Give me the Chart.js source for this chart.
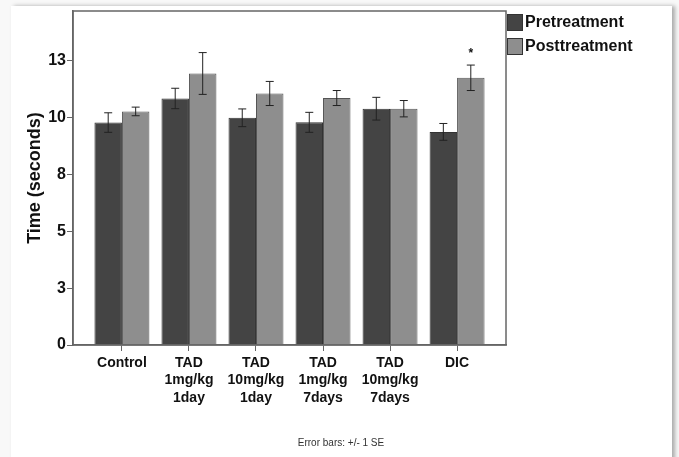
<!DOCTYPE html>
<html>
<head>
<meta charset="utf-8">
<script src="https://cdn.jsdelivr.net/npm/chart.js@4"></script>
<style>
  html, body { margin: 0; padding: 0; background: #f8f8f8; }
  #frame {
    position: absolute; left: 11px; top: 6px; width: 661px; height: 460px;
    background: #fff; box-shadow: 3px 0 4px #aaa;
  }
  #chart { position: absolute; left: 0; top: 0; }
</style>
</head>
<body>
<div id="frame"></div>
<canvas id="chart" width="679" height="457"></canvas>
<script>
const categories = [
  ['Control'],
  ['TAD', '1mg/kg', '1day'],
  ['TAD', '10mg/kg', '1day'],
  ['TAD', '1mg/kg', '7days'],
  ['TAD', '10mg/kg', '7days'],
  ['DIC']
];
const preValues = [9.79, 10.85, 10.0, 9.8, 10.4, 9.38];
const postValues = [10.28, 11.95, 11.07, 10.87, 10.4, 11.76];
const preSE = [0.43, 0.45, 0.39, 0.44, 0.5, 0.37];
const postSE = [0.19, 0.92, 0.53, 0.33, 0.36, 0.56];
const postMarks = ['', '', '', '', '', '*'];
const yTickValues = [0, 2.5, 5, 7.5, 10, 12.5];
const yTickLabels = ['0', '3', '5', '8', '10', '13'];

const preColor = '#444444';
const postColor = '#8e8e8e';
const axisColor = '#666666';
const textColor = '#111111';

// error bars, asterisk, plot frame, legend and footnote
const extras = {
  id: 'extras',
  afterDatasetsDraw(chart) {
    const ctx = chart.ctx;
    const y = chart.scales.y;
    const area = chart.chartArea;
    ctx.save();
    ctx.strokeStyle = axisColor;
    ctx.lineWidth = 1.5;
    ctx.strokeRect(area.left, area.top, area.right - area.left, area.bottom - area.top);

    const sets = [[preValues, preSE, null], [postValues, postSE, postMarks]];
    sets.forEach(([vals, se, marks], d) => {
      const meta = chart.getDatasetMeta(d);
      meta.data.forEach((bar, i) => {
        const hi = y.getPixelForValue(vals[i] + se[i]);
        const lo = y.getPixelForValue(vals[i] - se[i]);
        ctx.strokeStyle = '#222';
        ctx.lineWidth = 1;
        ctx.beginPath();
        ctx.moveTo(bar.x, hi); ctx.lineTo(bar.x, lo);
        ctx.moveTo(bar.x - 4, hi); ctx.lineTo(bar.x + 4, hi);
        ctx.moveTo(bar.x - 4, lo); ctx.lineTo(bar.x + 4, lo);
        ctx.stroke();
        if (marks && marks[i]) {
          ctx.fillStyle = textColor;
          ctx.font = 'bold 12px "Liberation Sans", Arial';
          ctx.textAlign = 'center';
          ctx.textBaseline = 'middle';
          ctx.fillText(marks[i], bar.x, hi - 11);
        }
      });
    });

    // legend
    const items = [['Pretreatment', preColor], ['Posttreatment', postColor]];
    items.forEach(([label, color], k) => {
      const top = 14 + k * 24;
      ctx.fillStyle = color;
      ctx.fillRect(507, top, 16, 17);
      ctx.strokeStyle = '#333';
      ctx.lineWidth = 1;
      ctx.strokeRect(507.5, top + 0.5, 15, 16);
      ctx.fillStyle = textColor;
      ctx.font = 'bold 16px "Liberation Sans", Arial';
      ctx.textAlign = 'left';
      ctx.textBaseline = 'middle';
      ctx.fillText(label, 525, top + 9);
    });

    ctx.fillStyle = '#333';
    ctx.font = '10px "Liberation Sans Narrow", "Liberation Sans", Arial';
    ctx.textAlign = 'center';
    ctx.textBaseline = 'middle';
    ctx.fillText('Error bars: +/- 1 SE', 341, 443);
    ctx.restore();
  }
};

const chart = new Chart(document.getElementById('chart'), {
  type: 'bar',
  data: {
    datasets: [{
      label: 'Pretreatment',
      data: preValues.map((v, i) => ({ x: i, y: v })),
      backgroundColor: preColor,
      borderColor: '#333',
      borderWidth: 1,
      categoryPercentage: 0.82,
      barPercentage: 1
    }, {
      label: 'Posttreatment',
      data: postValues.map((v, i) => ({ x: i, y: v })),
      backgroundColor: postColor,
      borderColor: '#555',
      borderWidth: 1,
      categoryPercentage: 0.82,
      barPercentage: 1
    }]
  },
  options: {
    responsive: false,
    animation: false,
    devicePixelRatio: 1,
    layout: { padding: { left: 0, top: 11, right: 173, bottom: 0 } },
    plugins: {
      legend: { display: false },
      tooltip: { enabled: false }
    },
    scales: {
      x: {
        type: 'linear',
        min: -0.73,
        max: 5.73,
        offset: false,
        afterBuildTicks: (s) => { s.ticks = categories.map((c, i) => ({ value: i })); },
        afterFit: (s) => { s.height = 112; },
        ticks: {
          autoSkip: false,
          maxRotation: 0,
          padding: 3,
          color: textColor,
          font: { family: '"Liberation Sans", Arial', size: 14, weight: 'bold', lineHeight: 1.25 },
          callback: (v) => categories[v]
        },
        grid: { offset: false, drawOnChartArea: false, color: axisColor, tickLength: 6 },
        border: { color: axisColor, width: 1.5 }
      },
      y: {
        min: 0,
        max: 14.7,
        afterBuildTicks: (s) => { s.ticks = yTickValues.map(v => ({ value: v })); },
        afterFit: (s) => { s.width = 73; },
        ticks: {
          padding: 1,
          color: textColor,
          font: { family: '"Liberation Sans", Arial', size: 16, weight: 'bold' },
          callback: (v) => yTickLabels[yTickValues.indexOf(v)]
        },
        grid: { drawOnChartArea: false, color: axisColor, tickLength: 6 },
        border: { color: axisColor, width: 1.5 },
        title: {
          display: true,
          text: 'Time (seconds)',
          color: textColor,
          padding: { top: 24, bottom: 0 },
          font: { family: '"Liberation Sans", Arial', size: 18, weight: 'bold' }
        }
      }
    }
  },
  plugins: [extras]
});
</script>
</body>
</html>
